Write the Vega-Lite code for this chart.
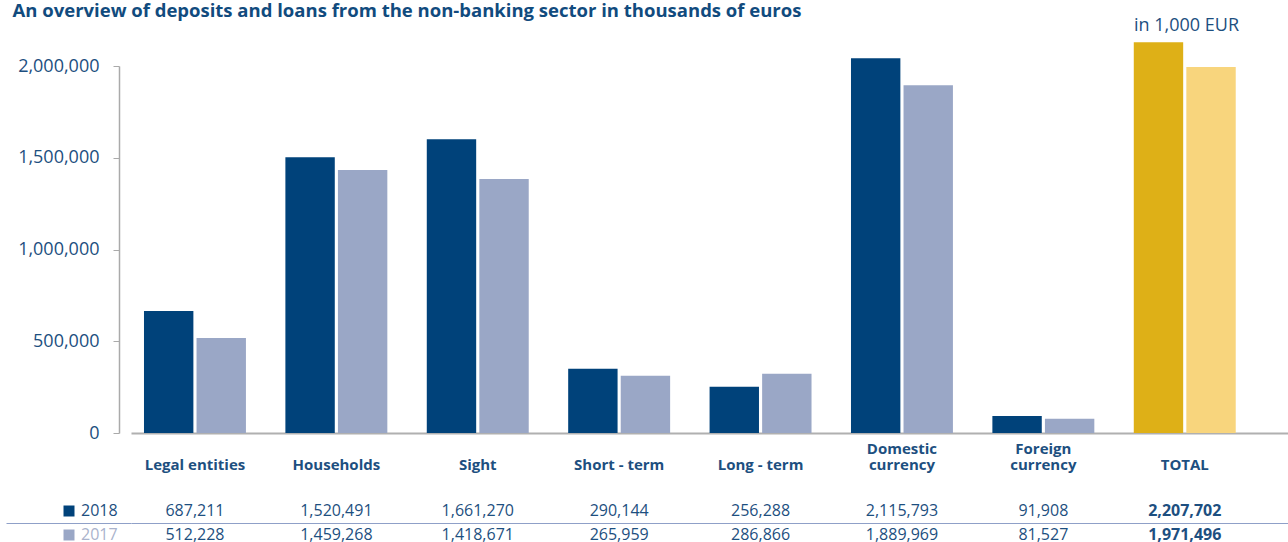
{
  "$schema": "https://vega.github.io/schema/vega-lite/v6.json",
  "background": "white",
  "padding": {"left": 5, "top": 1, "right": 0, "bottom": 0},
  "title": {
    "text": "An overview of deposits and loans from the non-banking sector in thousands of euros",
    "anchor": "start",
    "font": "Open Sans",
    "fontSize": 18.5,
    "fontWeight": "bold",
    "color": "#114b7e",
    "dx": 7,
    "offset": -3
  },
  "datasets": {
    "rows": [
      {"category": "Legal entities", "year": "2018", "bar": 665000, "value": 687211},
      {"category": "Legal entities", "year": "2017", "bar": 518000, "value": 512228},
      {"category": "Households", "year": "2018", "bar": 1503000, "value": 1520491},
      {"category": "Households", "year": "2017", "bar": 1433000, "value": 1459268},
      {"category": "Sight", "year": "2018", "bar": 1601000, "value": 1661270},
      {"category": "Sight", "year": "2017", "bar": 1384000, "value": 1418671},
      {"category": "Short - term", "year": "2018", "bar": 350000, "value": 290144},
      {"category": "Short - term", "year": "2017", "bar": 312000, "value": 265959},
      {"category": "Long - term", "year": "2018", "bar": 252000, "value": 256288},
      {"category": "Long - term", "year": "2017", "bar": 323000, "value": 286866},
      {"category": "Domestic currency", "year": "2018", "bar": 2042000, "value": 2115793},
      {"category": "Domestic currency", "year": "2017", "bar": 1895000, "value": 1889969},
      {"category": "Foreign currency", "year": "2018", "bar": 92500, "value": 91908},
      {"category": "Foreign currency", "year": "2017", "bar": 78000, "value": 81527},
      {"category": "TOTAL", "year": "2018", "bar": 2129000, "value": 2207702},
      {"category": "TOTAL", "year": "2017", "bar": 1995000, "value": 1971496}
    ]
  },
  "spacing": 27,
  "vconcat": [
    {
      "width": 1158,
      "height": 367,
      "title": {
        "text": "in 1,000 EUR",
        "anchor": "end",
        "frame": "group",
        "font": "Open Sans",
        "fontSize": 18,
        "fontWeight": "normal",
        "color": "#1d4f80",
        "dx": -50,
        "offset": 7
      },
      "data": {"name": "rows"},
      "mark": {"type": "bar"},
      "encoding": {
        "x": {
          "field": "category",
          "type": "nominal",
          "sort": null,
          "scale": {"type": "band", "paddingInner": 0.279, "paddingOuter": 0.2343, "align": 0.196},
          "axis": {
            "title": null,
            "ticks": false,
            "domainColor": "#b0b0b0",
            "domainWidth": 2,
            "labelAngle": 0,
            "labelFont": "Open Sans",
            "labelFontWeight": "bold",
            "labelFontSize": 15,
            "labelColor": "#1d4f80",
            "labelBaseline": "bottom",
            "labelPadding": 23,
            "labelLineHeight": 16,
            "labelLimit": 300,
            "labelExpr": "indexof(datum.value, 'currency') > 0 ? split(datum.value, ' ') : ['', datum.value]"
          }
        },
        "xOffset": {
          "field": "year",
          "type": "nominal",
          "sort": ["2018", "2017"],
          "scale": {"paddingInner": 0.06, "paddingOuter": 0}
        },
        "y": {
          "field": "bar",
          "type": "quantitative",
          "scale": {"domain": [0, 2000000], "nice": false},
          "axis": {
            "title": null,
            "values": [0, 500000, 1000000, 1500000, 2000000],
            "format": ",d",
            "offset": 12,
            "tickSize": 6,
            "labelPadding": 14,
            "domainColor": "#aaaaaa",
            "tickColor": "#aaaaaa",
            "domainWidth": 1.5,
            "labelFont": "Open Sans",
            "labelFontSize": 18,
            "labelColor": "#1d4f80",
            "grid": false
          }
        },
        "color": {
          "field": "year",
          "type": "nominal",
          "sort": ["2018", "2017"],
          "scale": {"domain": ["2018", "2017"], "range": ["#00427a", "#9aa7c6"]},
          "condition": [
            {"test": "datum.category === 'TOTAL' && datum.year === '2018'", "value": "#deb017"},
            {"test": "datum.category === 'TOTAL'", "value": "#f8d57d"}
          ],
          "legend": {
            "orient": "none",
            "legendX": -70,
            "legendY": 437,
            "title": null,
            "symbolType": "square",
            "symbolSize": 121,
            "symbolStrokeWidth": 0,
            "labelFont": "Open Sans",
            "labelFontSize": 16,
            "labelOffset": 4,
            "rowPadding": 8,
            "encode": {
              "labels": {"update": {"fill": {"signal": "datum.label === '2017' ? '#aab3cc' : '#1d4f80'"}}}
            }
          }
        }
      }
    },
    {
      "width": 1158,
      "height": 48,
      "data": {"name": "rows"},
      "encoding": {
        "x": {
          "field": "category",
          "type": "nominal",
          "sort": null,
          "scale": {"type": "band", "paddingInner": 0.279, "paddingOuter": 0.2343, "align": 0.196},
          "axis": null
        },
        "y": {
          "field": "year",
          "type": "nominal",
          "sort": ["2018", "2017"],
          "scale": {"type": "band", "paddingInner": 0, "paddingOuter": 0},
          "axis": {
            "title": null,
            "labels": false,
            "domain": false,
            "bandPosition": 0,
            "values": ["2017"],
            "ticks": true,
            "tickSize": 125,
            "tickColor": "#8fa0c8",
            "tickWidth": 1,
            "grid": true,
            "gridColor": "#8fa0c8",
            "gridWidth": 1
          }
        }
      },
      "layer": [
        {
          "transform": [{"filter": "datum.category !== 'TOTAL'"}],
          "mark": {"type": "text", "font": "Open Sans", "fontSize": 16, "color": "#1d4f80"},
          "encoding": {"text": {"field": "value", "type": "quantitative", "format": ",d"}}
        },
        {
          "transform": [{"filter": "datum.category === 'TOTAL'"}],
          "mark": {"type": "text", "font": "Open Sans", "fontSize": 16, "fontWeight": "bold", "color": "#1d4f80"},
          "encoding": {"text": {"field": "value", "type": "quantitative", "format": ",d"}}
        }
      ]
    }
  ],
  "config": {
    "view": {"stroke": null}
  }
}
